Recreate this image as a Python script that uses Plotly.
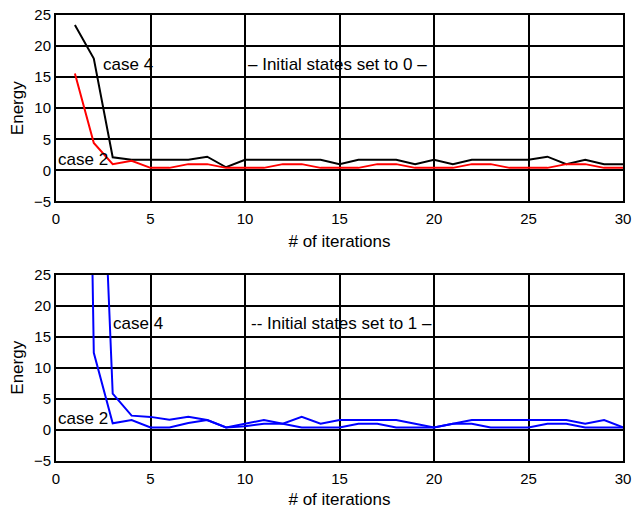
import plotly.graph_objects as go
from plotly.subplots import make_subplots

iterations = list(range(1, 31))

# Top panel: initial states set to 0
top_case4 = [23.4, 18.0, 2.1, 1.7, 1.7, 1.7, 1.7, 2.2, 0.5, 1.7, 1.7, 1.7, 1.7, 1.7, 1.0,
             1.7, 1.7, 1.7, 1.0, 1.7, 1.0, 1.7, 1.7, 1.7, 1.7, 2.2, 1.0, 1.7, 1.0, 1.0]
top_case2 = [15.6, 4.4, 1.0, 1.55, 0.4, 0.4, 1.0, 1.0, 0.4, 0.4, 0.4, 1.0, 1.0, 0.4, 0.4,
             0.4, 1.0, 1.0, 0.4, 0.4, 0.4, 1.0, 1.0, 0.4, 0.4, 0.4, 1.0, 1.0, 0.4, 0.4]

# Bottom panel: initial states set to 1
bot_case4 = [150.0, 80.0, 5.85, 2.3, 2.1, 1.65, 2.1, 1.6, 0.4, 1.0, 1.6, 1.0, 2.1, 1.0, 1.6,
             1.6, 1.6, 1.6, 1.0, 0.4, 1.0, 1.6, 1.6, 1.6, 1.6, 1.6, 1.6, 1.0, 1.6, 0.4]
bot_case2 = [200.0, 12.4, 1.06, 1.6, 0.4, 0.4, 1.1, 1.6, 0.4, 0.6, 1.0, 1.0, 0.4, 0.4, 0.4,
             1.0, 1.0, 0.4, 0.4, 0.4, 1.0, 1.0, 0.4, 0.4, 0.4, 1.0, 1.0, 0.4, 0.4, 0.4]

x_ticks = [0, 5, 10, 15, 20, 25, 30]
y_ticks = [-5, 0, 5, 10, 15, 20, 25]

FONT = "Liberation Sans, Arial, sans-serif"

fig = make_subplots(rows=2, cols=1, vertical_spacing=0.164)

fig.add_trace(go.Scatter(x=iterations, y=top_case4, mode="lines",
                         line=dict(color="black", width=2)), row=1, col=1)
fig.add_trace(go.Scatter(x=iterations, y=top_case2, mode="lines",
                         line=dict(color="#ff0000", width=2)), row=1, col=1)
fig.add_trace(go.Scatter(x=iterations, y=bot_case4, mode="lines",
                         line=dict(color="#0000ff", width=2)), row=2, col=1)
fig.add_trace(go.Scatter(x=iterations, y=bot_case2, mode="lines",
                         line=dict(color="#0000ff", width=2)), row=2, col=1)

for r in (1, 2):
    fig.update_xaxes(range=[0, 30], tickvals=x_ticks, showgrid=True, gridcolor="black",
                     gridwidth=2, showline=True, linecolor="black", linewidth=2, mirror=True,
                     zeroline=False, ticks="", automargin=False, ticklabelstandoff=3,
                     ticklabeloverflow="allow",
                     tickfont=dict(size=15, color="black", family=FONT),
                     title=dict(text="# of iterations", font=dict(size=17, color="black", family=FONT),
                                standoff=9),
                     row=r, col=1)
    fig.update_yaxes(range=[-5, 25], tickvals=y_ticks, showgrid=True, gridcolor="black",
                     gridwidth=2, showline=True, linecolor="black", linewidth=2, mirror=True,
                     zeroline=False, ticks="", automargin=False, ticklabeloverflow="allow",
                     tickfont=dict(size=15, color="black", family=FONT),
                     title=dict(text="Energy", font=dict(size=17, color="black", family=FONT),
                                standoff=6),
                     row=r, col=1)

def ann(text, x, y, xref, yref, anchor="left"):
    fig.add_annotation(text=text, x=x, y=y, xref=xref, yref=yref, showarrow=False,
                       xanchor=anchor, yanchor="middle",
                       font=dict(size=17, color="black", family=FONT))

ann("case 4", 2.4, 17.1, "x", "y")
ann("– Initial states set to 0 –", 14.9, 17.1, "x", "y", "center")
ann("case 2", 0.0, 1.8, "x", "y")
ann("case 4", 2.9, 17.1, "x2", "y2")
ann("-- Initial states set to 1 –", 15.1, 17.1, "x2", "y2", "center")
ann("case 2", 0.0, 1.9, "x2", "y2")

fig.update_layout(width=634, height=509, showlegend=False,
                  margin=dict(l=56, r=11, t=15, b=48, autoexpand=False),
                  paper_bgcolor="white", plot_bgcolor="white",
                  font=dict(family=FONT, color="black"))

fig.write_html("out.html", config={"displayModeBar": False},
               post_script="document.body.style.margin='0';document.body.style.overflow='hidden';")
